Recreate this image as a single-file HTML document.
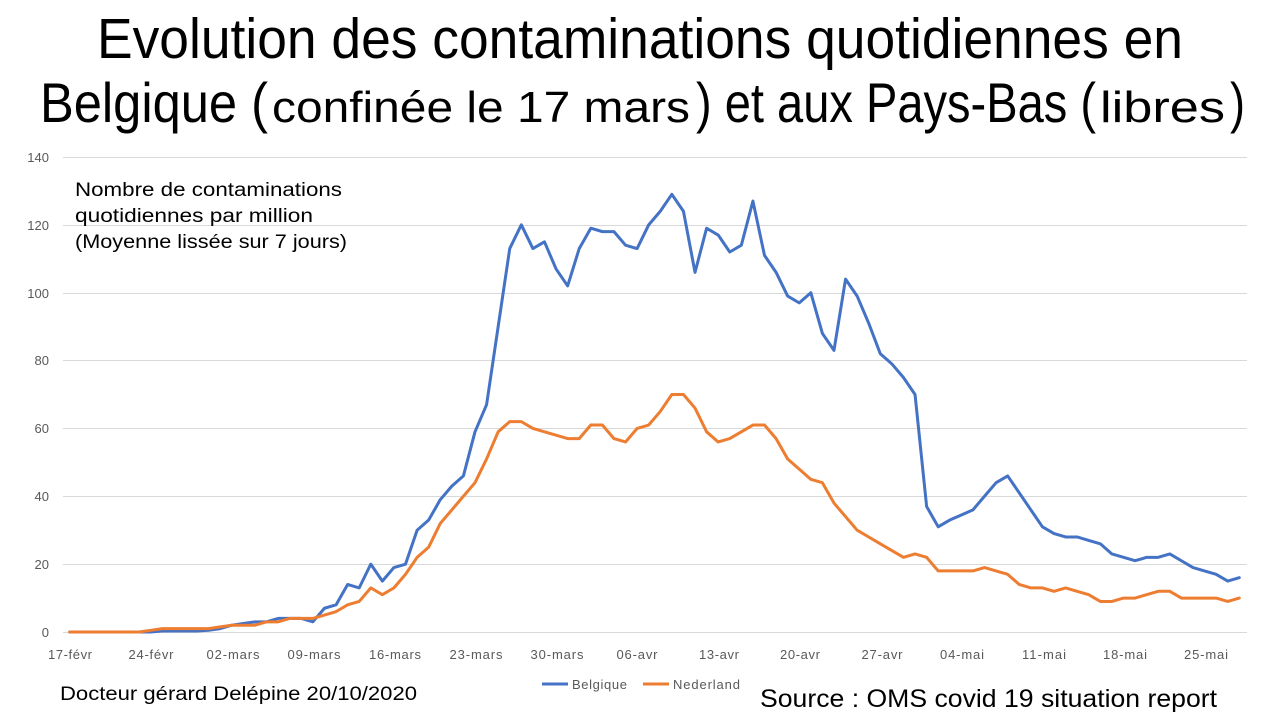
<!DOCTYPE html>
<html>
<head>
<meta charset="utf-8">
<style>
  html, body { margin:0; padding:0; background:#ffffff; }
  body { width:1280px; height:720px; overflow:hidden; }
  svg { display:block; }
  .t { font-family:"Liberation Sans", sans-serif; fill:#000; }
  .ax { font-family:"Liberation Sans", sans-serif; font-size:13px; fill:#595959; }
</style>
</head>
<body>
<svg width="1280" height="720" viewBox="0 0 1280 720" xmlns="http://www.w3.org/2000/svg">
  <!-- Title -->
  <text class="t" x="97" y="58" font-size="57" textLength="1086" lengthAdjust="spacingAndGlyphs">Evolution des contaminations quotidiennes en</text>
  <text class="t" x="40" y="122" font-size="56" textLength="228" lengthAdjust="spacingAndGlyphs">Belgique (</text>
  <text class="t" x="272" y="122" font-size="44" textLength="418" lengthAdjust="spacingAndGlyphs">confinée le 17 mars</text>
  <text class="t" x="696" y="122" font-size="56" textLength="400" lengthAdjust="spacingAndGlyphs">) et aux Pays-Bas (</text>
  <text class="t" x="1100" y="122" font-size="44" textLength="125" lengthAdjust="spacingAndGlyphs">libres</text>
  <text class="t" x="1230" y="122" font-size="56" textLength="15" lengthAdjust="spacingAndGlyphs">)</text>

  <!-- Gridlines -->
  <g stroke="#d9d9d9" stroke-width="1">
    <line x1="63" y1="157.5" x2="1247" y2="157.5"/>
    <line x1="63" y1="225.5" x2="1247" y2="225.5"/>
    <line x1="63" y1="293.5" x2="1247" y2="293.5"/>
    <line x1="63" y1="360.5" x2="1247" y2="360.5"/>
    <line x1="63" y1="428.5" x2="1247" y2="428.5"/>
    <line x1="63" y1="496.5" x2="1247" y2="496.5"/>
    <line x1="63" y1="564.5" x2="1247" y2="564.5"/>
    <line x1="63" y1="632.5" x2="1247" y2="632.5"/>
  </g>

  <!-- Y labels -->
  <g class="ax" text-anchor="end">
    <text x="49" y="162">140</text>
    <text x="49" y="230">120</text>
    <text x="49" y="298">100</text>
    <text x="49" y="365">80</text>
    <text x="49" y="433">60</text>
    <text x="49" y="501">40</text>
    <text x="49" y="569">20</text>
    <text x="49" y="637">0</text>
  </g>

  <!-- X labels -->
  <g class="ax" text-anchor="middle">
    <text x="70" y="659" textLength="44">17-févr</text>
    <text x="151" y="659" textLength="45">24-févr</text>
    <text x="233" y="659" textLength="53">02-mars</text>
    <text x="314" y="659" textLength="53">09-mars</text>
    <text x="395" y="659" textLength="52">16-mars</text>
    <text x="476" y="659" textLength="53">23-mars</text>
    <text x="557" y="659" textLength="53">30-mars</text>
    <text x="637" y="659" textLength="41">06-avr</text>
    <text x="719" y="659" textLength="40">13-avr</text>
    <text x="800" y="659" textLength="40">20-avr</text>
    <text x="882" y="659" textLength="41">27-avr</text>
    <text x="962" y="659" textLength="44">04-mai</text>
    <text x="1044" y="659" textLength="44">11-mai</text>
    <text x="1125" y="659" textLength="44">18-mai</text>
    <text x="1206" y="659" textLength="44">25-mai</text>
  </g>

  <!-- Series -->
  <g transform="translate(69.7,632) scale(11.58,-3.393)" fill="none" stroke-linejoin="round" stroke-linecap="round">
    <polyline stroke="#4472C4" stroke-width="3" vector-effect="non-scaling-stroke" points="0,0 1,0 2,0 3,0 4,0 5,0 6,0 7,0 8,0.3 9,0.3 10,0.3 11,0.3 12,0.5 13,1 14,2 15,2.5 16,3 17,3 18,4 19,4 20,4 21,3 22,7 23,8 24,14 25,13 26,20 27,15 28,19 29,20 30,30 31,33 32,39 33,43 34,46 35,59 36,67 37,90 38,113 39,120 40,113 41,115 42,107 43,102 44,113 45,119 46,118 47,118 48,114 49,113 50,120 51,124 52,129 53,124 54,106 55,119 56,117 57,112 58,114 59,127 60,111 61,106 62,99 63,97 64,100 65,88 66,83 67,104 68,99 69,91 70,82 71,79 72,75 73,70 74,37 75,31 76,33 77,34.5 78,36 79,40 80,44 81,46 82,41 83,36 84,31 85,29 86,28 87,28 88,27 89,26 90,23 91,22 92,21 93,22 94,22 95,23 96,21 97,19 98,18 99,17 100,15 101,16"/>
    <polyline stroke="#ED7D31" stroke-width="3" vector-effect="non-scaling-stroke" points="0,0 1,0 2,0 3,0 4,0 5,0 6,0 7,0.5 8,1 9,1 10,1 11,1 12,1 13,1.5 14,2 15,2 16,2 17,3 18,3 19,4 20,4 21,4 22,5 23,6 24,8 25,9 26,13 27,11 28,13 29,17 30,22 31,25 32,32 33,36 34,40 35,44 36,51 37,59 38,62 39,62 40,60 41,59 42,58 43,57 44,57 45,61 46,61 47,57 48,56 49,60 50,61 51,65 52,70 53,70 54,66 55,59 56,56 57,57 58,59 59,61 60,61 61,57 62,51 63,48 64,45 65,44 66,38 67,34 68,30 69,28 70,26 71,24 72,22 73,23 74,22 75,18 76,18 77,18 78,18 79,19 80,18 81,17 82,14 83,13 84,13 85,12 86,13 87,12 88,11 89,9 90,9 91,10 92,10 93,11 94,12 95,12 96,10 97,10 98,10 99,10 100,9 101,10"/>
  </g>

  <!-- Annotation -->
  <g class="t" font-size="19">
    <text x="75" y="196" textLength="267" lengthAdjust="spacingAndGlyphs">Nombre de contaminations</text>
    <text x="75" y="222" textLength="238" lengthAdjust="spacingAndGlyphs">quotidiennes par million</text>
    <text x="75" y="248" textLength="272" lengthAdjust="spacingAndGlyphs">(Moyenne lissée sur 7 jours)</text>
  </g>

  <!-- Legend -->
  <line x1="542" y1="684" x2="568" y2="684" stroke="#4472C4" stroke-width="3"/>
  <text class="ax" x="572" y="689" textLength="55">Belgique</text>
  <line x1="643" y1="684" x2="669" y2="684" stroke="#ED7D31" stroke-width="3"/>
  <text class="ax" x="673" y="689" textLength="67">Nederland</text>

  <!-- Footer -->
  <text class="t" x="60" y="700" font-size="19" textLength="357" lengthAdjust="spacingAndGlyphs">Docteur gérard Delépine 20/10/2020</text>
  <text class="t" x="760" y="707" font-size="25" textLength="457" lengthAdjust="spacingAndGlyphs">Source : OMS covid 19 situation report</text>
</svg>
</body>
</html>
